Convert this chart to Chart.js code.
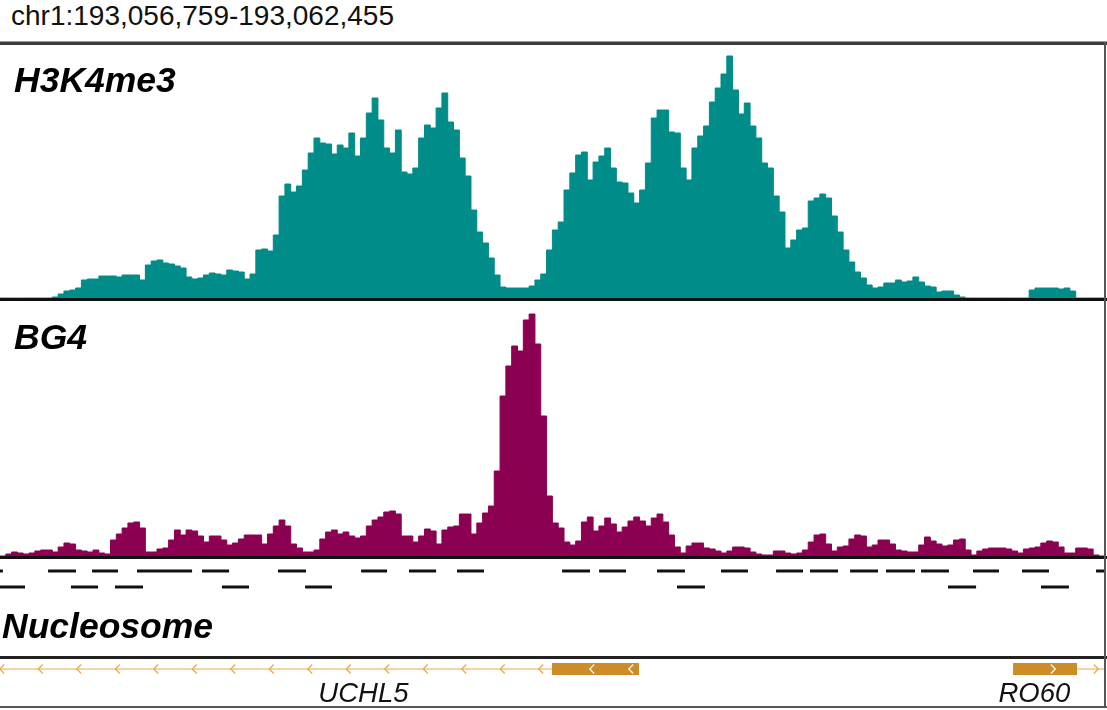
<!DOCTYPE html>
<html>
<head>
<meta charset="utf-8">
<script src="https://cdn.jsdelivr.net/npm/chart.js@4.4.1/dist/chart.umd.min.js"></script>
<style>
  html, body { margin: 0; padding: 0; background: #fff; }
  #wrap { position: relative; width: 1107px; height: 710px; overflow: hidden; background: #fff; }
  #wrap canvas { position: absolute; left: 0; }
  .rule { position: absolute; }
  #locus { position: absolute; left: 11px; top: 2px; font: 28px "Liberation Sans", Arial, sans-serif;
           line-height: 28px; color: #111; white-space: nowrap; }
</style>
</head>
<body>
<div id="wrap">
  <div id="locus">chr1:193,056,759-193,062,455</div>
  <canvas id="trackH3" width="1104" height="253" style="top:45px"></canvas>
  <canvas id="trackBG4" width="1104" height="255" style="top:301px"></canvas>
  <canvas id="trackNuc" width="1104" height="96" style="top:559px"></canvas>
  <canvas id="trackGene" width="1104" height="47" style="top:659px"></canvas>
  <div class="rule" style="left:0;top:41px;width:1107px;height:1px;background:#9a9a9a"></div>
  <div class="rule" style="left:0;top:42px;width:1107px;height:3px;background:#3c3c3c"></div>
  <div class="rule" style="left:0;top:298px;width:1107px;height:3px;background:#111"></div>
  <div class="rule" style="left:0;top:556px;width:1107px;height:3px;background:#111"></div>
  <div class="rule" style="left:0;top:656px;width:1107px;height:3px;background:#222"></div>
  <div class="rule" style="left:0;top:706px;width:1107px;height:2px;background:#555"></div>
  <div class="rule" style="left:1104px;top:42px;width:2px;height:666px;background:#555"></div>
</div>
<script>
// Locus window and coverage bin size (bp)
const REGION_START = 193056759;
const REGION_END = 193062455;
const BIN_BP = 30;

// H3K4me3 coverage, one value per 30 bp bin
const H3K4ME3 = [
  0, 0, 0, 0, 0, 0, 0, 0, 0, 1,
  4, 7, 8, 10, 18, 19, 19, 22, 22, 22,
  21, 23, 23, 23, 18, 33, 37, 38, 35, 34,
  32, 30, 21, 19, 20, 23, 25, 24, 23, 28,
  27, 26, 19, 24, 48, 49, 47, 63, 102, 114,
  106, 112, 128, 145, 160, 155, 154, 144, 153, 150,
  165, 142, 160, 185, 200, 178, 150, 145, 168, 126,
  124, 130, 160, 173, 170, 190, 205, 176, 168, 140,
  122, 88, 66, 55, 40, 23, 11, 10, 10, 10,
  10, 12, 18, 24, 48, 68, 76, 108, 125, 143,
  146, 118, 136, 142, 150, 130, 116, 115, 105, 95,
  108, 135, 180, 188, 188, 166, 165, 130, 118, 150,
  162, 172, 196, 210, 224, 242, 208, 184, 195, 172,
  160, 135, 130, 102, 86, 50, 58, 68, 70, 97,
  100, 104, 100, 82, 66, 48, 36, 26, 20, 13,
  10, 11, 15, 15, 18, 16, 17, 21, 16, 12,
  11, 6, 7, 7, 3, 1, 0, 0, 0, 0,
  0, 0, 0, 0, 0, 0, 0, 8, 10, 10,
  10, 10, 9, 10, 7, 0, 0, 0, 0, 0
];

// BG4 coverage, same bins
const BG4 = [
  0, 2, 4, 3, 2, 3, 5, 6, 6, 4,
  9, 13, 12, 6, 5, 4, 6, 3, 2, 16,
  22, 28, 33, 34, 28, 4, 4, 7, 8, 16,
  26, 21, 26, 25, 20, 14, 20, 20, 16, 11,
  13, 17, 21, 21, 21, 12, 22, 30, 36, 30,
  12, 8, 4, 4, 6, 17, 24, 26, 22, 24,
  20, 18, 20, 30, 36, 39, 44, 45, 42, 20,
  20, 14, 20, 27, 25, 12, 26, 29, 30, 42,
  42, 22, 33, 43, 50, 85, 160, 190, 210, 205,
  236, 242, 212, 140, 60, 33, 28, 14, 11, 15,
  34, 39, 25, 30, 38, 32, 24, 29, 35, 39,
  35, 30, 38, 42, 34, 21, 9, 3, 10, 13,
  13, 8, 7, 5, 3, 5, 9, 9, 8, 4,
  2, 1, 1, 5, 5, 3, 2, 3, 6, 14,
  21, 22, 12, 5, 9, 10, 17, 21, 20, 9,
  11, 16, 16, 12, 6, 5, 4, 4, 11, 19,
  15, 12, 10, 11, 16, 17, 6, 1, 5, 7,
  8, 8, 8, 7, 5, 3, 7, 8, 9, 13,
  15, 14, 9, 3, 3, 8, 8, 7, 1, 0
];

// Called nucleosomes, two packing rows
const NUC_ROW1_START = [193056627, 193057007, 193057234, 193057466, 193057801, 193058193, 193058622,
  193058869, 193059117, 193059659, 193059850, 193060149, 193060479, 193060763, 193060938,
  193061145, 193061330, 193061511, 193061779, 193062032, 193062414];
const NUC_ROW1_END = [193056774, 193057151, 193057368, 193057750, 193057941, 193058338, 193058756,
  193059009, 193059256, 193059803, 193059989, 193060293, 193060618, 193060902, 193061083,
  193061289, 193061480, 193061655, 193061913, 193062171, 193062559];
const NUC_ROW2_START = [193056741, 193057125, 193057352, 193057904, 193058333, 193060252, 193061650, 193062130];
const NUC_ROW2_END = [193056888, 193057265, 193057497, 193058044, 193058472, 193060396, 193061795, 193062274];

// Gene models
const GENE_NAMES = ['UCHL5', 'RO60'];
const GENE_STRAND = [-1, 1];
const GENE_START = [193040000, 193061986];
const GENE_END = [193060056, 193075000];
const EXON_START = [193059607, 193061986];
const EXON_END = [193060056, 193062316];
const GENE_LABEL_AT = [193058634, 193062096];

const TEAL = '#008c89';
const MAROON = '#8c0052';
const GENE_LINE = '#eba846';
const GENE_EXON = '#cd8c2a';
const LABEL_FONT = 'italic bold 35.5px "Liberation Sans", Arial, sans-serif';
const GENE_FONT = 'italic 27.5px "Liberation Sans", Arial, sans-serif';

function coverage(values) {
  const pts = values.map((v, i) => ({ x: REGION_START + i * BIN_BP, y: v }));
  pts.push({ x: REGION_START + values.length * BIN_BP, y: values[values.length - 1] });
  return pts;
}

function segments(starts, ends, row) {
  const pts = [];
  starts.forEach((s, i) => {
    pts.push({ x: s, y: row }, { x: ends[i], y: row }, { x: ends[i], y: null });
  });
  return pts;
}

function trackLabel(text, x, y) {
  return {
    id: 'trackLabel',
    afterDraw(chart) {
      const c = chart.ctx;
      c.save();
      c.font = LABEL_FONT;
      c.fillStyle = '#000';
      c.textBaseline = 'alphabetic';
      c.textAlign = 'left';
      c.fillText(text, x, y);
      c.restore();
    }
  };
}

function baseOptions(yMin, yMax, reverse) {
  return {
    responsive: false,
    animation: false,
    devicePixelRatio: 1,
    events: [],
    layout: { padding: 0 },
    plugins: { legend: { display: false }, tooltip: { enabled: false } },
    scales: {
      x: { type: 'linear', min: REGION_START, max: REGION_END, display: false },
      y: { min: yMin, max: yMax, reverse: !!reverse, display: false }
    }
  };
}

function coverageChart(id, label, values, color, yMax, labelX, labelY) {
  new Chart(document.getElementById(id), {
    type: 'line',
    data: {
      datasets: [{
        label: label,
        data: coverage(values),
        stepped: true,
        fill: 'origin',
        backgroundColor: color,
        borderColor: color,
        borderWidth: 1,
        pointRadius: 0
      }]
    },
    options: baseOptions(0, yMax),
    plugins: [trackLabel(label, labelX, labelY)]
  });
}

coverageChart('trackH3', 'H3K4me3', H3K4ME3, TEAL, 253, 14, 47);
coverageChart('trackBG4', 'BG4', BG4, MAROON, 255, 14, 48);

// Nucleosome track: each call is a short horizontal bar
const nucStyle = { borderColor: '#111', borderWidth: 3, borderCapStyle: 'butt', pointRadius: 0, spanGaps: false, fill: false };
new Chart(document.getElementById('trackNuc'), {
  type: 'line',
  data: {
    datasets: [
      Object.assign({ label: 'row1', data: segments(NUC_ROW1_START, NUC_ROW1_END, 1) }, nucStyle),
      Object.assign({ label: 'row2', data: segments(NUC_ROW2_START, NUC_ROW2_END, 2) }, nucStyle)
    ]
  },
  options: baseOptions(0.25, 6.25, true),
  plugins: [trackLabel('Nucleosome', 2, 79)]
});

// Gene track: intron line, exon blocks, strand chevrons and names
const GENE_ROW = 1;
const geneDecor = {
  id: 'geneDecor',
  afterDatasetsDraw(chart) {
    const { ctx, chartArea } = chart;
    const xs = chart.scales.x, ys = chart.scales.y;
    const yy = ys.getPixelForValue(GENE_ROW);
    const step = 38.5;
    const chevron = (x, dir, color) => {
      ctx.strokeStyle = color;
      ctx.lineWidth = 1.2;
      ctx.beginPath();
      ctx.moveTo(x + 2.2 * dir, yy - 4.5);
      ctx.lineTo(x - 2.2 * dir, yy);
      ctx.lineTo(x + 2.2 * dir, yy + 4.5);
      ctx.stroke();
    };
    ctx.save();
    GENE_NAMES.forEach((name, g) => {
      const dir = GENE_STRAND[g] < 0 ? 1 : -1;
      const gs = Math.max(xs.getPixelForValue(GENE_START[g]), chartArea.left);
      const ge = Math.min(xs.getPixelForValue(GENE_END[g]), chartArea.right);
      const es = xs.getPixelForValue(EXON_START[g]);
      const ee = xs.getPixelForValue(EXON_END[g]);
      for (let x = es - 11; x > gs; x -= step) chevron(x, dir, GENE_LINE);
      for (let x = ee + 19; x < ge; x += step) chevron(x, dir, GENE_LINE);
      for (let x = es + 40; x < ee - 4; x += 39) chevron(x, dir, '#ffffff');
      ctx.font = GENE_FONT;
      ctx.fillStyle = '#111';
      ctx.textAlign = 'center';
      ctx.textBaseline = 'alphabetic';
      ctx.fillText(name, xs.getPixelForValue(GENE_LABEL_AT[g]), 43);
    });
    ctx.restore();
  }
};

new Chart(document.getElementById('trackGene'), {
  type: 'line',
  data: {
    datasets: [
      { label: 'exons', data: segments(EXON_START, EXON_END, GENE_ROW), borderColor: GENE_EXON,
        borderWidth: 12, borderCapStyle: 'butt', pointRadius: 0, fill: false, order: 0 },
      { label: 'genes', data: segments(GENE_START, GENE_END, GENE_ROW), borderColor: GENE_LINE,
        borderWidth: 1.2, pointRadius: 0, fill: false, order: 1 }
    ]
  },
  options: baseOptions(0, 4.7, true),
  plugins: [geneDecor]
});
</script>
</body>
</html>
